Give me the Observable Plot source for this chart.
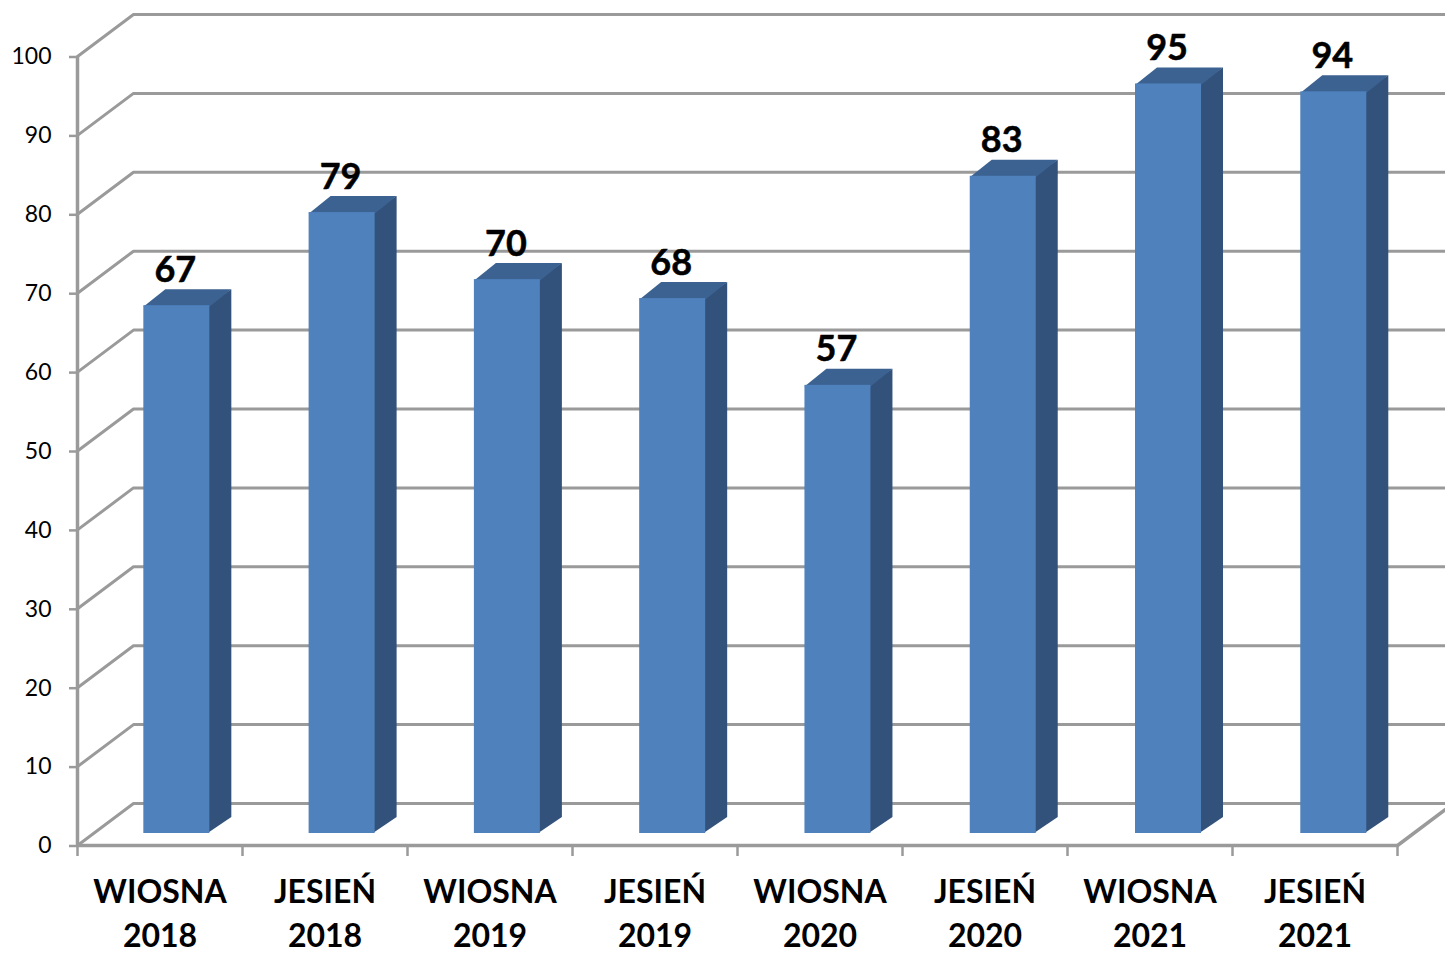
<!DOCTYPE html>
<html lang="pl">
<head>
<meta charset="utf-8">
<title>Wiosna 2018 – Jesień 2021</title>
<script src="https://cdn.jsdelivr.net/npm/d3@7"></script>
<script src="https://cdn.jsdelivr.net/npm/@observablehq/plot@0.6"></script>
<style>
  html, body { margin: 0; padding: 0; background: #fff; overflow: hidden; }
  svg { display: block; }
</style>
</head>
<body>
<div id="chart"></div>
<script>
const seasons = ["WIOSNA", "JESIEŃ", "WIOSNA", "JESIEŃ", "WIOSNA", "JESIEŃ", "WIOSNA", "JESIEŃ"];
const years = [2018, 2018, 2019, 2019, 2020, 2020, 2021, 2021];
const labels = [67, 79, 70, 68, 57, 83, 95, 94];
const values = [66.9, 78.7, 70.2, 67.8, 56.8, 83.3, 95, 94];
const yTicks = [0, 10, 20, 30, 40, 50, 60, 70, 80, 90, 100];
const categoryEdges = [0, 1, 2, 3, 4, 5, 6, 7, 8];

const GREY = "#9a9a9a";
const FRONT = "#4f81bd";
const SIDE = "#32527c";
const TOP = "#3b6291";

// Oblique projection expressed in data units (165 px per category, 7.89 px per value unit)
const wallDx = 56 / 165, wallDy = 42 / 7.89;
const barDx = 22 / 165, barDy = 16 / 7.89;
const barLeft = 0.402, barWidth = 0.4, barPitch = 1.0017;
const wallEnd = (1445 - 77) / 165;
const floorEndDx = wallEnd - 8;
const floorEndDy = floorEndDx * wallDy / wallDx;

const rows = values.map((v, i) => {
  const x1 = barLeft + i * barPitch;
  return {i, v, x1, x2: x1 + barWidth, label: labels[i]};
});

const wallLines = yTicks.flatMap(t => [
  {t, x: 0, y: t},
  {t, x: wallDx, y: t + wallDy},
  {t, x: wallEnd, y: t + wallDy}
]);
const sideFaces = rows.flatMap(({i, v, x2}) => [
  {i, x: x2 - 0.01, y1: 0, y2: v},
  {i, x: x2 + barDx, y1: barDy, y2: v + barDy}
]);
const topFaces = rows.flatMap(({i, v, x1, x2}) => [
  {i, x1, x2, y: v - 0.2},
  {i, x1: x1 + barDx, x2: x2 + barDx, y: v + barDy}
]);
const floorFront = [
  {x: 0, y: 0},
  {x: 8, y: 0},
  {x: 8 + floorEndDx, y: floorEndDy}
];

const lift = -12; // bars stand slightly behind the front edge of the floor

const chart = Plot.plot({
  width: 1445,
  height: 954,
  marginLeft: 77,
  marginRight: 48,
  marginTop: 56,
  marginBottom: 109,
  style: {fontFamily: "Lato, sans-serif", background: "#fff", color: "#000"},
  x: {type: "linear", domain: [0, 8]},
  y: {type: "linear", domain: [0, 100]},
  marks: [
    Plot.line(wallLines, {x: "x", y: "y", z: "t", stroke: GREY, strokeWidth: 3}),
    Plot.line(floorFront, {x: "x", y: "y", stroke: GREY, strokeWidth: 3.5}),
    Plot.ruleX([0], {y1: 0, y2: 100, stroke: GREY, strokeWidth: 3.5}),
    Plot.axisY({
      ticks: yTicks,
      tickSize: 8,
      tickPadding: 18,
      stroke: GREY,
      strokeWidth: 2.5,
      fontSize: 23,
      label: null,
      fill: "#000",
      dy: 0.5
    }),
    Plot.ruleX(categoryEdges, {x: d => d, y1: 0, y2: -11 / 7.89, stroke: GREY, strokeWidth: 2.5}),
    Plot.axisX({
      ticks: categoryEdges.slice(0, -1).map(d => d + 0.5),
      tickSize: 0,
      tickPadding: 26,
      tickFormat: d => `${seasons[Math.floor(d)]}\n${years[Math.floor(d)]}`,
      fontSize: 32,
      fontWeight: "bold",
      lineHeight: 1.38,
      label: null,
      fill: "#000",
      stroke: "#000",
      strokeWidth: 0.4
    }),
    Plot.area(sideFaces, {x1: "x", x2: "x", y1: "y1", y2: "y2", z: "i", fill: SIDE, dy: lift}),
    Plot.area(topFaces, {x1: "x1", x2: "x2", y1: "y", y2: "y", z: "i", fill: TOP, dy: lift}),
    Plot.rect(rows, {
      x1: "x1",
      x2: "x2",
      y1: () => 0,
      y2: "v",
      fill: FRONT,
      dy: lift
    }),
    Plot.text(rows, {
      x: d => (d.x1 + d.x2) / 2,
      y: "v",
      text: d => String(d.label),
      dx: -1.5,
      dy: -47.5,
      fontSize: 36,
      fontWeight: "bold",
      fill: "#000",
      stroke: "#000",
      strokeWidth: 0.5
    })
  ]
});
document.getElementById("chart").append(chart);
</script>
</body>
</html>
